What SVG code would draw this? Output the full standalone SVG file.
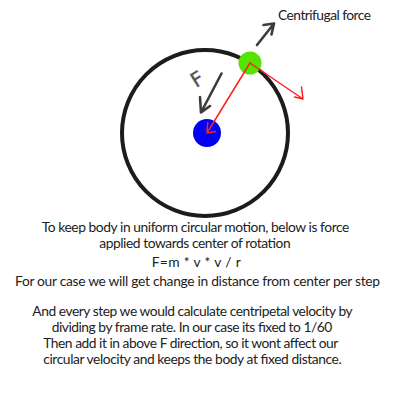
<svg xmlns="http://www.w3.org/2000/svg" width="400" height="400" viewBox="0 0 400 400">
<style>
.txt{font-family:"Lato","Liberation Sans",sans-serif;font-size:13.8px;fill:#222}
.red{stroke:#ff1f1f;stroke-width:1.5;fill:none;stroke-linecap:round;stroke-linejoin:round}
.gray{stroke:#3c3c3c;stroke-width:2.6;fill:none;stroke-linecap:round;stroke-linejoin:round}
</style>
<rect width="400" height="400" fill="#ffffff"/>
<g id="orbit">
<circle cx="205" cy="133" r="83" fill="none" stroke="#1c1c1c" stroke-width="4"/>
</g>
<g id="center-body">
<circle cx="207" cy="133" r="14" fill="#0000f5"/>
</g>
<g id="orbiting-body">
<circle cx="250" cy="63" r="11.5" fill="#55e300"/>
</g>
<g id="connectors">
<path class="red" d="M250,63 L207,133 M207.7,122.5 L207,133 L215.5,131.5"/>
<path class="red" d="M250,63 L303,99 M301.5,87 L303,99 L294.5,97"/>
<path class="gray" d="M257,45 L274,23.5 M263.5,25 L274,23.5 L271.5,34.5"/>
<path class="gray" d="M221.5,73.5 L201,112.5 M200,97 L201,112.5 L210,106"/>
</g>
<g id="label-f">
<text x="0" y="0" transform="translate(196,88) rotate(-32)" font-family="'DejaVu Sans',sans-serif" font-size="20" fill="#555" stroke="#555" stroke-width="0.4">F</text>
</g>
<g id="label-centrifugal">
<text class="txt" x="278" y="19.5" textLength="93">Centrifugal force</text>
</g>
<g id="description">
<text class="txt" x="41.7" y="232" textLength="307.6">To keep body in uniform circular motion, below is force</text>
<text class="txt" x="99.3" y="247.5" textLength="191.4">applied towards center of rotation</text>
<text class="txt" x="151.7" y="266.5" textLength="89">F=m * v * v / r</text>
<text class="txt" x="15" y="286" textLength="365">For our case we will get change in distance from center per step</text>
<text class="txt" x="32.3" y="316" textLength="320.4">And every step we would calculate centripetal velocity by</text>
<text class="txt" x="51.7" y="332" textLength="280.6">dividing by frame rate. In our case its fixed to 1/60</text>
<text class="txt" x="43.3" y="348" textLength="295">Then add it in above F direction, so it wont affect our</text>
<text class="txt" x="43.3" y="364" textLength="298.4">circular velocity and keeps the body at fixed distance.</text>
</g>
</svg>
